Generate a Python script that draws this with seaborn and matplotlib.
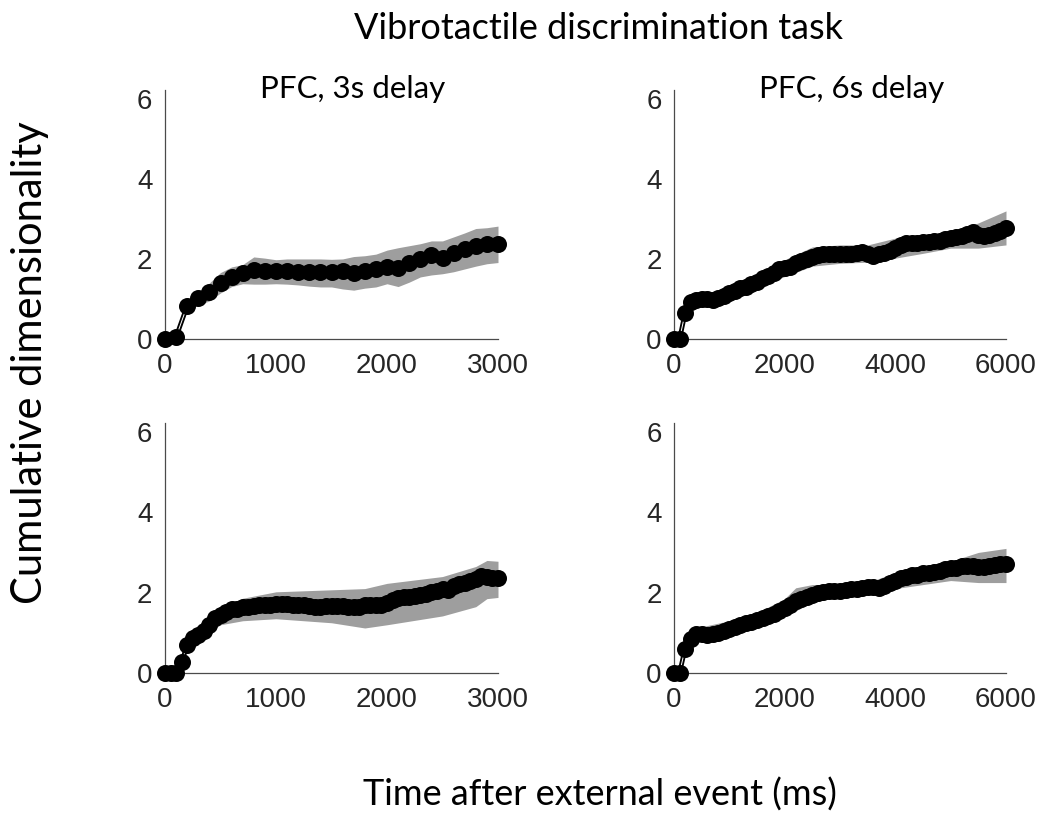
import matplotlib
matplotlib.use("Agg")
import matplotlib.pyplot as plt
import seaborn as sns
import pandas as pd
import numpy as np

# ---------------- data ----------------
main_title = "Vibrotactile discrimination task"
x_label = "Time after external event (ms)"
y_label = "Cumulative dimensionality"
panel_titles = ["PFC, 3s delay", "PFC, 6s delay", "", ""]

yticks = [0, 2, 4, 6]
xticks_3s = [0, 1000, 2000, 3000]
xticks_6s = [0, 2000, 4000, 6000]

# top-left: PFC 3s delay (every 100 ms)
tl_t = list(range(0, 3001, 100))
tl_mean = [0.00, 0.05, 0.83, 1.02, 1.18, 1.39, 1.56, 1.64, 1.72, 1.71, 1.69,
           1.71, 1.68, 1.68, 1.68, 1.68, 1.70, 1.64, 1.70, 1.74, 1.81, 1.78,
           1.89, 1.99, 2.10, 2.03, 2.14, 2.24, 2.33, 2.37, 2.37]
tl_upper = [0.00, 0.05, 0.90, 1.15, 1.40, 1.66, 1.80, 1.86, 2.05, 2.02, 1.98,
            2.00, 2.00, 2.00, 2.00, 1.99, 2.00, 2.06, 2.08, 2.12, 2.22, 2.28,
            2.33, 2.38, 2.45, 2.45, 2.55, 2.65, 2.76, 2.78, 2.82]
tl_lower = [0.00, 0.00, 0.72, 0.85, 0.95, 1.15, 1.31, 1.38, 1.37, 1.37, 1.38,
            1.37, 1.35, 1.32, 1.30, 1.30, 1.25, 1.22, 1.27, 1.30, 1.38, 1.31,
            1.42, 1.55, 1.60, 1.63, 1.68, 1.75, 1.82, 1.88, 1.91]

# top-right: PFC 6s delay (every 100 ms)
tr_t = list(range(0, 6001, 100))
tr_mean = [0.00, 0.00, 0.64, 0.93, 0.98, 0.99, 0.99, 0.98, 1.02, 1.08,
           1.16, 1.21, 1.27, 1.31, 1.38, 1.43, 1.52, 1.58, 1.64, 1.74,
           1.77, 1.79, 1.89, 1.96, 1.99, 2.04, 2.10, 2.12, 2.12, 2.12,
           2.12, 2.12, 2.12, 2.14, 2.17, 2.12, 2.08, 2.12, 2.14, 2.21,
           2.27, 2.35, 2.39, 2.41, 2.41, 2.43, 2.43, 2.46, 2.46, 2.49,
           2.52, 2.54, 2.57, 2.62, 2.68, 2.60, 2.57, 2.60, 2.66, 2.71, 2.77]
tr_band_t = [0, 100, 200, 300, 500, 1000, 1500, 2000, 2500, 3000, 3500,
             4000, 4500, 5000, 5500, 6000]
tr_upper = [0.00, 0.02, 0.70, 1.00, 1.08, 1.31, 1.55, 1.98, 2.30, 2.35, 2.35,
            2.52, 2.60, 2.68, 2.90, 3.20]
tr_lower = [0.00, 0.00, 0.58, 0.85, 0.90, 1.02, 1.30, 1.56, 1.82, 1.89, 1.92,
            2.02, 2.14, 2.27, 2.27, 2.35]

# bottom-left (every 50 ms)
bl_t = list(range(0, 3001, 50))
bl_mean = [0.00, 0.00, 0.00, 0.27, 0.70, 0.88, 0.95, 1.05, 1.20, 1.37,
           1.44, 1.52, 1.58, 1.60, 1.63, 1.65, 1.67, 1.69, 1.69, 1.70,
           1.71, 1.71, 1.71, 1.70, 1.69, 1.69, 1.66, 1.65, 1.65, 1.66,
           1.67, 1.66, 1.67, 1.65, 1.63, 1.65, 1.69, 1.68, 1.70, 1.70,
           1.75, 1.82, 1.86, 1.88, 1.90, 1.92, 1.95, 1.97, 2.02, 2.04,
           2.08, 2.06, 2.17, 2.21, 2.25, 2.30, 2.33, 2.41, 2.38, 2.36, 2.36]
bl_band_t = [0, 100, 150, 200, 300, 500, 700, 1000, 1500, 1800, 2000, 2500,
             2800, 2900, 3000]
bl_upper = [0.00, 0.02, 0.35, 0.80, 1.05, 1.65, 1.86, 2.02, 2.07, 2.10, 2.23,
            2.40, 2.65, 2.80, 2.78]
bl_lower = [0.00, 0.00, 0.20, 0.60, 0.85, 1.20, 1.30, 1.35, 1.25, 1.12, 1.20,
            1.42, 1.65, 1.85, 1.88]

# bottom-right (every 100 ms)
br_t = list(range(0, 6001, 100))
br_mean = [0.00, 0.00, 0.60, 0.85, 0.97, 0.98, 0.95, 0.96, 1.00, 1.05,
           1.10, 1.15, 1.20, 1.24, 1.28, 1.32, 1.37, 1.42, 1.48, 1.55,
           1.62, 1.70, 1.78, 1.85, 1.90, 1.95, 1.98, 2.02, 2.04, 2.05,
           2.05, 2.07, 2.08, 2.10, 2.12, 2.13, 2.15, 2.12, 2.17, 2.24,
           2.30, 2.36, 2.40, 2.43, 2.45, 2.48, 2.50, 2.52, 2.55, 2.58,
           2.60, 2.62, 2.65, 2.66, 2.66, 2.63, 2.64, 2.67, 2.68, 2.70, 2.72]
br_band_t = [0, 100, 200, 300, 500, 1000, 1500, 2000, 2200, 2500, 3000, 3500,
             4000, 4500, 5000, 5500, 6000]
br_upper = [0.00, 0.02, 0.75, 1.00, 1.15, 1.30, 1.50, 1.85, 2.12, 2.20, 2.20,
            2.25, 2.50, 2.65, 2.78, 3.00, 3.10]
br_lower = [0.00, 0.00, 0.45, 0.70, 0.82, 0.95, 1.15, 1.40, 1.55, 1.75, 1.92,
            2.00, 2.10, 2.20, 2.30, 2.25, 2.25]

# ---------------- style ----------------
sns.set_theme(style="white")
plt.rcParams["font.family"] = ["Liberation Sans", "DejaVu Sans"]
TITLE_FONT = ["Lato", "DejaVu Sans"]
AXIS_COLOR = "#4a4a4a"
TEXT_COLOR = "#262626"
BAND_COLOR = "#9e9e9e"

fig = plt.figure(figsize=(10.45, 8.16), dpi=100)

W = 1045.0
H = 816.0


def rect(x0, x1, y_top, y_bot):
    return [x0 / W, 1 - y_bot / H, (x1 - x0) / W, (y_bot - y_top) / H]


panels = [
    dict(rect=rect(165, 498, 90, 339), t=tl_t, m=tl_mean, bt=tl_t, lo=tl_lower,
         up=tl_upper, xmax=3000, xt=xticks_3s, title=panel_titles[0], tx=0.562),
    dict(rect=rect(674, 1006, 90, 339), t=tr_t, m=tr_mean, bt=tr_band_t, lo=tr_lower,
         up=tr_upper, xmax=6000, xt=xticks_6s, title=panel_titles[1], tx=0.536),
    dict(rect=rect(165, 498, 423, 673), t=bl_t, m=bl_mean, bt=bl_band_t, lo=bl_lower,
         up=bl_upper, xmax=3000, xt=xticks_3s, title=panel_titles[2], tx=0.56),
    dict(rect=rect(674, 1006, 423, 673), t=br_t, m=br_mean, bt=br_band_t, lo=br_lower,
         up=br_upper, xmax=6000, xt=xticks_6s, title=panel_titles[3], tx=0.536),
]

for p in panels:
    ax = fig.add_axes(p["rect"])
    df = pd.DataFrame({"t": p["t"], "y": p["m"]})
    ax.fill_between(p["bt"], p["lo"], p["up"], color=BAND_COLOR, lw=0, zorder=1)
    sns.lineplot(data=df, x="t", y="y", ax=ax, color="black", lw=3.4, zorder=2,
                 clip_on=False)
    sns.lineplot(data=df, x="t", y="y", ax=ax, color="white", lw=0.7, zorder=3,
                 clip_on=False)
    sns.scatterplot(data=df, x="t", y="y", ax=ax, color="black", s=150,
                    linewidth=0, zorder=4, clip_on=False)
    ax.set_xlim(0, p["xmax"])
    ax.set_ylim(0, 6.22)
    ax.set_xticks(p["xt"])
    ax.set_yticks(yticks)
    ax.set_xticklabels([str(v) for v in p["xt"]])
    ax.set_yticklabels([str(v) for v in yticks])
    ax.set_xlabel("")
    ax.set_ylabel("")
    sns.despine(ax=ax)
    for s in ["left", "bottom"]:
        ax.spines[s].set_color(AXIS_COLOR)
        ax.spines[s].set_linewidth(0.9)
    ax.tick_params(axis="both", direction="out", length=4, width=0.9,
                   color=AXIS_COLOR, labelcolor=TEXT_COLOR, labelsize=20)
    ax.tick_params(axis="x", pad=6)
    ax.tick_params(axis="y", pad=5)
    ax.set_facecolor("none")
    if p["title"]:
        ax.text(p["tx"], 0.968, p["title"], transform=ax.transAxes,
                ha="center", va="baseline", fontsize=22.5, family=TITLE_FONT,
                color="black")

fig.text(598 / W, 1 - 39 / H, main_title, ha="center", va="baseline",
         fontsize=26, family=TITLE_FONT, color="black")
fig.text(600 / W, 1 - 806 / H, x_label, ha="center", va="baseline",
         fontsize=26, family=TITLE_FONT, color="black")
fig.text(30 / W, 1 - 363 / H, y_label, ha="center", va="center",
         rotation=90, fontsize=30, family=TITLE_FONT, color="black")

fig.savefig("out.png", dpi=100, facecolor="white")
